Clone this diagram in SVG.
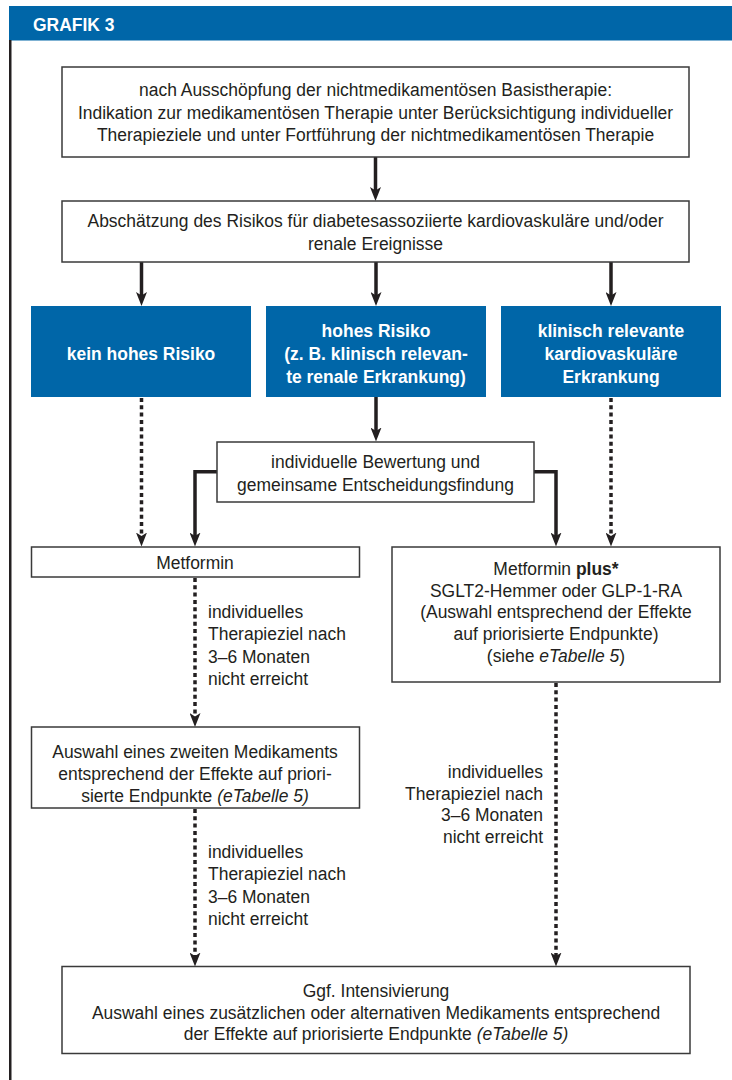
<svg xmlns="http://www.w3.org/2000/svg" width="732" height="1080" viewBox="0 0 732 1080">
<style>
.box{fill:#fff;stroke:#3a3a3a;stroke-width:1.5}
.blue{fill:#0066a8}
.t{font-family:"Liberation Sans",Arial,sans-serif;font-size:19px;fill:#231f20;text-anchor:middle}
.w{fill:#fff;font-weight:bold}
.s{text-anchor:start}
.e{text-anchor:end}
.b{font-weight:bold}
.i{font-style:italic}
.solid{stroke:#231f20;stroke-width:3.5;fill:none}
.dot{stroke:#231f20;stroke-width:3.5;stroke-dasharray:4 3.3;fill:none}
</style>
<defs>
<marker id="ah" viewBox="0 0 14 11" refX="6" refY="5.5" markerWidth="14" markerHeight="11" markerUnits="userSpaceOnUse" orient="auto">
<path d="M0,0 L14,5.5 L0,11 L3.5,5.5 Z" fill="#231f20"/>
</marker>
</defs>
<rect width="732" height="1080" fill="#fff"/>
<g id="header">
<rect x="9" y="6" width="723" height="34.5" class="blue"/>
<rect x="9" y="40" width="2.5" height="1040" fill="#231f20"/>
<text class="t w s" font-size="18.5" transform="translate(33 30.7) scale(0.92 1)">GRAFIK 3</text>
</g>
<g id="connectors">
<path class="solid" d="M375.5,157 V193" marker-end="url(#ah)"/>
<path class="solid" d="M141.5,262 V298" marker-end="url(#ah)"/>
<path class="solid" d="M376,262 V298" marker-end="url(#ah)"/>
<path class="solid" d="M611,262 V298" marker-end="url(#ah)"/>
<path class="solid" d="M376,397 V433.5" marker-end="url(#ah)"/>
<path class="solid" d="M217,471.7 H195 V538.5" marker-end="url(#ah)"/>
<path class="solid" d="M534,471.7 H556 V538.5" marker-end="url(#ah)"/>
<path class="dot" d="M141.5,398 V538.5" marker-end="url(#ah)"/>
<path class="dot" d="M611,398 V538.5" marker-end="url(#ah)"/>
<path class="dot" d="M195,578 V719" marker-end="url(#ah)"/>
<path class="dot" d="M195,809 V958.5" marker-end="url(#ah)"/>
<path class="dot" d="M556,683 V958.5" marker-end="url(#ah)"/>
</g>
<g id="n1">
<rect x="62" y="67" width="627" height="90" class="box"/>
<text class="t" transform="translate(375.5 96) scale(0.92 1)">nach Ausschöpfung der nichtmedikamentösen Basistherapie:</text>
<text class="t" transform="translate(375.5 118.5) scale(0.92 1)">Indikation zur medikamentösen Therapie unter Berücksichtigung individueller</text>
<text class="t" transform="translate(375.5 141) scale(0.92 1)">Therapieziele und unter Fortführung der nichtmedikamentösen Therapie</text>
</g>
<g id="n2">
<rect x="62" y="201" width="627" height="61" class="box"/>
<text class="t" transform="translate(375.5 226.5) scale(0.92 1)">Abschätzung des Risikos für diabetesassoziierte kardiovaskuläre und/oder</text>
<text class="t" transform="translate(375.5 249.5) scale(0.92 1)">renale Ereignisse</text>
</g>
<g id="n3">
<rect x="31" y="306" width="220" height="91" class="blue"/>
<text class="t w" transform="translate(141 359.5) scale(0.92 1)">kein hohes Risiko</text>
</g>
<g id="n4">
<rect x="266" y="306" width="220" height="91" class="blue"/>
<text class="t w" transform="translate(376 336.5) scale(0.92 1)">hohes Risiko</text>
<text class="t w" transform="translate(376 359.5) scale(0.92 1)">(z. B. klinisch relevan-</text>
<text class="t w" transform="translate(376 382.5) scale(0.92 1)">te renale Erkrankung)</text>
</g>
<g id="n5">
<rect x="501" y="306" width="220" height="91" class="blue"/>
<text class="t w" transform="translate(611 336.5) scale(0.92 1)">klinisch relevante</text>
<text class="t w" transform="translate(611 359.5) scale(0.92 1)">kardiovaskuläre</text>
<text class="t w" transform="translate(611 382.5) scale(0.92 1)">Erkrankung</text>
</g>
<g id="n6">
<rect x="217" y="442" width="317" height="60" class="box"/>
<text class="t" transform="translate(375.5 468) scale(0.92 1)">individuelle Bewertung und</text>
<text class="t" transform="translate(375.5 490.5) scale(0.92 1)">gemeinsame Entscheidungsfindung</text>
</g>
<g id="n7">
<rect x="31.5" y="547" width="328" height="30" class="box"/>
<text class="t" transform="translate(195 568.5) scale(0.92 1)">Metformin</text>
</g>
<g id="n8">
<rect x="392" y="547" width="328" height="135" class="box"/>
<text class="t" transform="translate(556 574.5) scale(0.92 1)">Metformin <tspan class="b">plus*</tspan></text>
<text class="t" transform="translate(556 596.5) scale(0.92 1)">SGLT2-Hemmer oder GLP-1-RA</text>
<text class="t" transform="translate(556 618) scale(0.92 1)">(Auswahl entsprechend der Effekte</text>
<text class="t" transform="translate(556 639.5) scale(0.92 1)">auf priorisierte Endpunkte)</text>
<text class="t" transform="translate(556 661.5) scale(0.92 1)">(siehe <tspan class="i">eTabelle 5</tspan>)</text>
</g>
<g id="lbl1">
<text class="t s" transform="translate(208 617.5) scale(0.92 1)">individuelles</text>
<text class="t s" transform="translate(208 640) scale(0.92 1)">Therapieziel nach</text>
<text class="t s" transform="translate(208 662.5) scale(0.92 1)">3–6 Monaten</text>
<text class="t s" transform="translate(208 685) scale(0.92 1)">nicht erreicht</text>
</g>
<g id="n9">
<rect x="31.5" y="727" width="328" height="81" class="box"/>
<text class="t" transform="translate(195 758) scale(0.92 1)">Auswahl eines zweiten Medikaments</text>
<text class="t" transform="translate(195 780) scale(0.92 1)">entsprechend der Effekte auf priori-</text>
<text class="t" transform="translate(195 802) scale(0.92 1)">sierte Endpunkte <tspan class="i">(eTabelle 5)</tspan></text>
</g>
<g id="lbl2">
<text class="t e" transform="translate(543 778) scale(0.92 1)">individuelles</text>
<text class="t e" transform="translate(543 799.5) scale(0.92 1)">Therapieziel nach</text>
<text class="t e" transform="translate(543 821) scale(0.92 1)">3–6 Monaten</text>
<text class="t e" transform="translate(543 842.5) scale(0.92 1)">nicht erreicht</text>
</g>
<g id="lbl3">
<text class="t s" transform="translate(208 858) scale(0.92 1)">individuelles</text>
<text class="t s" transform="translate(208 880) scale(0.92 1)">Therapieziel nach</text>
<text class="t s" transform="translate(208 902.5) scale(0.92 1)">3–6 Monaten</text>
<text class="t s" transform="translate(208 924.5) scale(0.92 1)">nicht erreicht</text>
</g>
<g id="n10">
<rect x="62" y="966.5" width="628" height="87" class="box"/>
<text class="t" transform="translate(376 996.5) scale(0.92 1)">Ggf. Intensivierung</text>
<text class="t" transform="translate(376 1018.5) scale(0.92 1)">Auswahl eines zusätzlichen oder alternativen Medikaments entsprechend</text>
<text class="t" transform="translate(376 1040) scale(0.92 1)">der Effekte auf priorisierte Endpunkte <tspan class="i">(eTabelle 5)</tspan></text>
</g>
</svg>
